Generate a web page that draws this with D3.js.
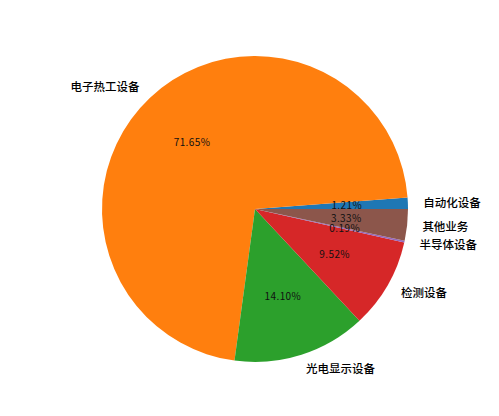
<!DOCTYPE html>
<html>
<head>
<meta charset="utf-8">
<script src="https://cdn.jsdelivr.net/npm/d3@7"></script>
<style>
  body { margin: 0; background: #fff; }
  svg { display: block; }
</style>
</head>
<body>
<div id="chart"></div>
<script>
// Slice data, in the order they are drawn (counterclockwise from 3 o'clock).
const categories = ['自动化设备', '电子热工设备', '光电显示设备', '检测设备', '半导体设备', '其他业务'];
const shares = [1.21, 71.65, 14.10, 9.52, 0.19, 3.33];
const colors = ['#1f77b4', '#ff7f0e', '#2ca02c', '#d62728', '#9467bd', '#8c564b'];

const width = 499, height = 416;
const cx = 255, cy = 209, radius = 153;

const svg = d3.select('#chart').append('svg')
  .attr('width', width)
  .attr('height', height);

const g = svg.append('g')
  .attr('transform', 'translate(' + cx + ',' + cy + ')');

// Start at 3 o'clock and go counterclockwise, like matplotlib.
const pie = d3.pie()
  .sort(null)
  .value(function(d){ return d.value })
  .startAngle(Math.PI / 2)
  .endAngle(Math.PI / 2 - 2 * Math.PI);

const rows = categories.map(function(c, i){ return { name: c, value: shares[i], color: colors[i] } });
const arcs = pie(rows);

const arc = d3.arc().innerRadius(0).outerRadius(radius);

g.selectAll('path.slice')
  .data(arcs)
  .enter().append('path')
    .attr('class', 'slice')
    .attr('d', arc)
    .attr('fill', function(d){ return d.data.color });

function mid(d){ return (d.startAngle + d.endAngle) / 2 }

// Category labels at 1.1 radius.
g.selectAll('text.label')
  .data(arcs)
  .enter().append('text')
    .attr('class', 'label')
    .attr('x', function(d){ return Math.sin(mid(d)) * radius * 1.1 })
    .attr('y', function(d){ return -Math.cos(mid(d)) * radius * 1.1 })
    .attr('dy', '0.35em')
    .attr('text-anchor', function(d){ return Math.sin(mid(d)) >= 0 ? 'start' : 'end' })
    .style('font-family', '"Noto Sans CJK SC", sans-serif')
    .style('font-size', '11.5px')
    .style('font-weight', '500')
    .style('fill', '#000')
    .text(function(d){ return d.data.name });

// Percent labels at 0.6 radius (a little spaced, like the half-width glyphs of the original).
g.selectAll('text.pct')
  .data(arcs)
  .enter().append('text')
    .attr('class', 'pct')
    .attr('x', function(d){ return Math.sin(mid(d)) * radius * 0.6 })
    .attr('y', function(d){ return -Math.cos(mid(d)) * radius * 0.6 })
    .attr('dy', '0.35em')
    .attr('text-anchor', 'middle')
    .style('font-family', '"Noto Sans CJK SC", sans-serif')
    .style('font-size', '10px')
    .style('letter-spacing', '0.4px')
    .style('fill', '#111')
    .text(function(d){ return d.data.value.toFixed(2) + '%' });
</script>
</body>
</html>
